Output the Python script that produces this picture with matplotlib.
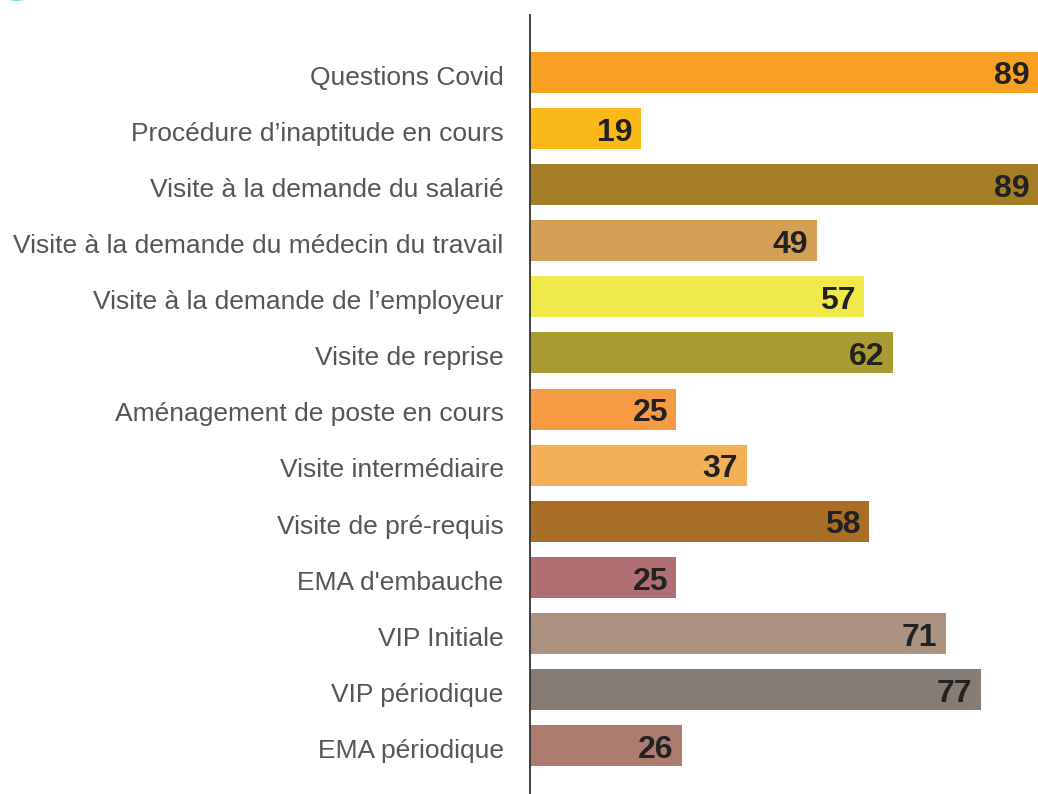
import matplotlib
matplotlib.use("Agg")
import matplotlib.pyplot as plt
from matplotlib.patches import Ellipse
from matplotlib.transforms import ScaledTranslation

# Data
categories = [
    "Questions Covid",
    "Procédure d’inaptitude en cours",
    "Visite à la demande du salarié",
    "Visite à la demande du médecin du travail",
    "Visite à la demande de l’employeur",
    "Visite de reprise",
    "Aménagement de poste en cours",
    "Visite intermédiaire",
    "Visite de pré-requis",
    "EMA d'embauche",
    "VIP Initiale",
    "VIP périodique",
    "EMA périodique",
]
values = [89, 19, 89, 49, 57, 62, 25, 37, 58, 25, 71, 77, 26]
colors = [
    "#F7A021", "#FBB919", "#A57D27", "#D4A055", "#F0E94A", "#A89C32",
    "#F69A43", "#F3B057", "#A86E26", "#B07073", "#AC9381", "#857C76",
    "#AD7C70",
]

plt.rcParams["font.family"] = ["Liberation Sans", "DejaVu Sans"]

fig = plt.figure(figsize=(10.38, 7.94), dpi=100)
ax = fig.add_axes([0.5106, 0.0, 0.4894, 0.981])

pos = list(range(len(categories)))
ax.barh(pos, values, height=0.73, color=colors)

ax.set_xlim(0, 86.8)
ax.set_ylim(12.86, -1.02)

for p, v in zip(pos, values):
    ax.annotate(str(v), xy=(min(v, 86.8), p), xytext=(-6, -3),
                textcoords="offset points", ha="right", va="center",
                fontsize=23, fontweight="bold", color="#222222",
                annotation_clip=False)

ax.set_yticks(pos)
ax.set_yticklabels(categories, fontsize=19, color="#555555")
ax.tick_params(axis="y", length=0, pad=19)
# nudge labels down a touch
shift = ScaledTranslation(0, -2 / 72, fig.dpi_scale_trans)
for t in ax.get_yticklabels():
    t.set_transform(t.get_transform() + shift)
ax.set_xticks([])

for s in ["top", "right", "bottom"]:
    ax.spines[s].set_visible(False)
ax.spines["left"].set_color("#333333")
ax.spines["left"].set_linewidth(1.3)

# small teal arc peeking in at top-left
fig.patches.append(Ellipse((0.016, 1.006), 0.022, 0.01, transform=fig.transFigure,
                           facecolor="none", edgecolor="#7FD3DA", linewidth=2.5))

fig.savefig("out.png", dpi=100)
